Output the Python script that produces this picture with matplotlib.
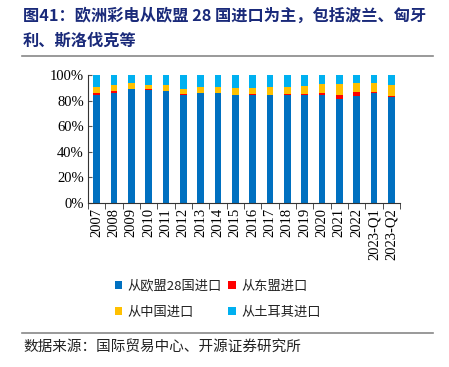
import matplotlib
matplotlib.use("Agg")
import matplotlib.pyplot as plt
import numpy as np
from matplotlib.patches import Patch
from matplotlib.lines import Line2D

plt.rcParams['font.family'] = ['Noto Sans CJK SC', 'DejaVu Sans']

categories = ["2007", "2008", "2009", "2010", "2011", "2012", "2013", "2014", "2015",
              "2016", "2017", "2018", "2019", "2020", "2021", "2022", "2023-Q1", "2023-Q2"]
eu28 = [84.9, 86.2, 89.4, 88.6, 87.8, 84.7, 86.0, 86.0, 84.7, 84.9, 84.4, 84.9, 84.9, 84.7, 81.5, 83.9, 86.0, 83.1]
asean = [1.1, 1.1, 0.2, 0.3, 0.2, 0.3, 0.3, 0.3, 0.2, 0.2, 0.2, 0.2, 0.3, 1.0, 2.9, 2.6, 1.0, 1.0]
china = [4.7, 4.7, 4.3, 3.6, 4.0, 3.9, 4.4, 4.8, 5.2, 5.3, 6.4, 5.6, 6.2, 7.1, 8.4, 7.4, 6.9, 8.4]
turkey = [9.3, 8.0, 6.1, 7.5, 8.0, 11.1, 9.3, 8.9, 9.9, 9.6, 9.0, 9.3, 8.6, 7.2, 7.2, 6.1, 6.1, 7.5]

series_names = ["从欧盟28国进口", "从东盟进口", "从中国进口", "从土耳其进口"]
colors = ["#0070C0", "#FF0000", "#FFC000", "#00B0F0"]
title_line1 = "图41：欧洲彩电从欧盟 28 国进口为主，包括波兰、匈牙"
title_line2 = "利、斯洛伐克等"
source_text = "数据来源：国际贸易中心、开源证券研究所"

fig = plt.figure(figsize=(4.49, 3.67), dpi=100)
ax = fig.add_axes([88/449, 1-202.5/367, 312/449, 127.2/367])

x = np.arange(len(categories))
bottom = np.zeros(len(categories))
for vals, c in zip([eu28, asean, china, turkey], colors):
    v = np.array(vals) / 100.0
    ax.bar(x, v, width=0.4, bottom=bottom, color=c, edgecolor='none')
    bottom += v

ax.set_xlim(-0.5, len(categories) - 0.5)
ax.set_ylim(0, 1.0)
ax.set_yticks(np.arange(0, 1.01, 0.2))
ax.set_yticklabels([f"{int(round(t*100))}%" for t in np.arange(0, 1.01, 0.2)],
                   family=['Liberation Serif'], fontsize=10.5)
ax.set_xticks(x)
ax.set_xticklabels(categories, rotation=90, family=['Liberation Serif'], fontsize=10.5)
ax.tick_params(axis='x', length=0, pad=4)
ax.set_xticks(np.arange(-0.5, len(categories), 1), minor=True)
ax.tick_params(axis='x', which='minor', length=4, direction='out', color='#333333')
ax.tick_params(axis='y', length=3, direction='in', color='#555555', pad=3)
for s in ['top', 'right']:
    ax.spines[s].set_visible(False)
for s in ['left', 'bottom']:
    ax.spines[s].set_color('#333333')
    ax.spines[s].set_linewidth(0.8)

# Title
fig.text(23/449, 1-16/367, title_line1,
         fontsize=11.7, fontweight='bold', color='#1a2a7a', va='center', ha='left')
fig.text(23/449, 1-41/367, title_line2,
         fontsize=11.7, fontweight='bold', color='#1a2a7a', va='center', ha='left')

fig.add_artist(Line2D([22/449, 433/449], [1-56/367, 1-56/367], color='#888888', lw=1.2))
fig.add_artist(Line2D([22/449, 433/449], [1-333/367, 1-333/367], color='#888888', lw=1.2))

handles = [Patch(facecolor=c, edgecolor='none') for c in colors]
order = [0, 2, 1, 3]
leg = fig.legend([handles[i] for i in order], [series_names[i] for i in order],
                 ncol=2, loc='center', bbox_to_anchor=(0.485, 1-299/367), frameon=False,
                 fontsize=9.5, handlelength=0.55, handleheight=0.55, handletextpad=0.4,
                 columnspacing=0.5, labelspacing=1.0)
for t in leg.get_texts():
    t.set_color('#222222')

fig.text(23/449, 1-347/367, source_text, fontsize=10.5, color='#222222', va='center', ha='left')

fig.savefig("out.png", dpi=100)
